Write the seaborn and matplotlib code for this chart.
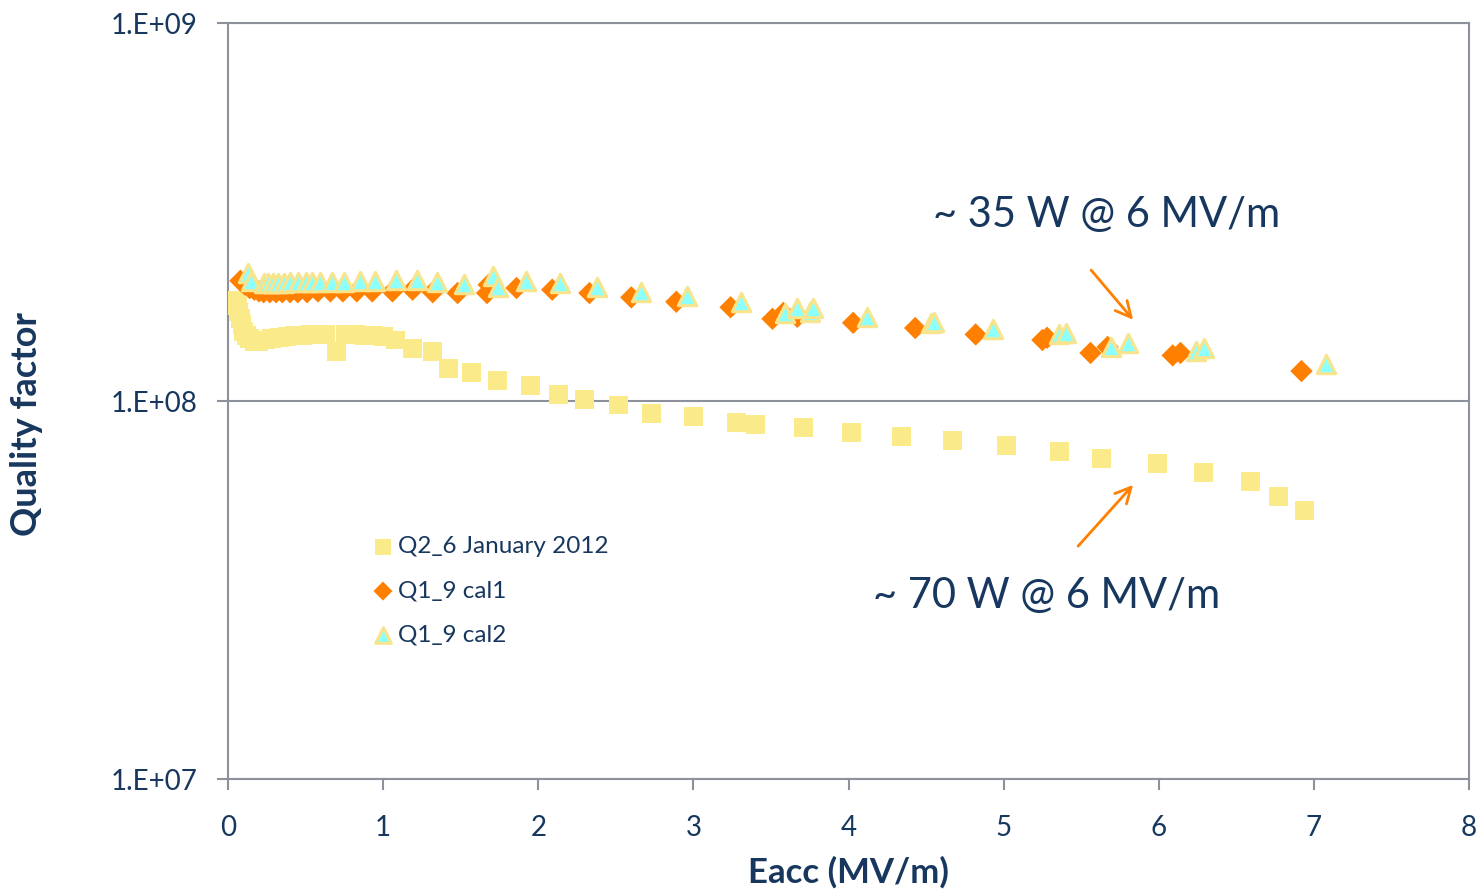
import numpy as np
import pandas as pd
import matplotlib
matplotlib.use("Agg")
import matplotlib.pyplot as plt
import seaborn as sns
from matplotlib.ticker import FixedLocator, FuncFormatter, NullLocator

# ---------------- data ----------------
series_labels = ["Q2_6 January 2012", "Q1_9 cal1", "Q1_9 cal2"]

q2_x = [0.05, 0.06, 0.07, 0.08, 0.09, 0.10, 0.12, 0.14, 0.17, 0.20,
        0.24, 0.28, 0.33, 0.38, 0.43, 0.48, 0.53, 0.58, 0.63, 0.70,
        0.76, 0.82, 0.88, 0.94, 1.00, 1.08, 1.19, 1.32, 1.42, 1.57,
        1.74, 1.95, 2.13, 2.30, 2.52, 2.73, 3.00, 3.28, 3.40, 3.71,
        4.02, 4.34, 4.67, 5.02, 5.36, 5.63, 5.99, 6.29, 6.59, 6.77, 6.94]
q2_q = [1.85e8, 1.79e8, 1.72e8, 1.65e8, 1.59e8, 1.53e8, 1.49e8, 1.46e8, 1.44e8, 1.44e8,
        1.45e8, 1.46e8, 1.47e8, 1.48e8, 1.49e8, 1.49e8, 1.50e8, 1.50e8, 1.50e8, 1.35e8,
        1.50e8, 1.50e8, 1.49e8, 1.49e8, 1.48e8, 1.45e8, 1.38e8, 1.35e8, 1.22e8, 1.19e8,
        1.13e8, 1.10e8, 1.04e8, 1.01e8, 9.76e7, 9.29e7, 9.12e7, 8.77e7, 8.67e7, 8.51e7,
        8.26e7, 8.07e7, 7.87e7, 7.64e7, 7.37e7, 7.05e7, 6.84e7, 6.48e7, 6.13e7, 5.60e7, 5.14e7]

cal1_x = [0.08, 0.11, 0.14, 0.17, 0.20, 0.23, 0.27, 0.31, 0.35, 0.40,
          0.45, 0.51, 0.58, 0.66, 0.74, 0.83, 0.93, 1.06, 1.19, 1.32,
          1.48, 1.67, 1.68, 1.86, 2.09, 2.33, 2.60, 2.89, 3.24, 3.51,
          3.58, 3.67, 4.03, 4.43, 4.82, 5.25, 5.28, 5.56, 5.67, 6.09,
          6.14, 6.92]
cal1_q = [2.08e8, 2.03e8, 1.99e8, 1.97e8, 1.95e8, 1.94e8, 1.94e8, 1.94e8, 1.94e8, 1.94e8,
          1.94e8, 1.94e8, 1.95e8, 1.95e8, 1.95e8, 1.95e8, 1.95e8, 1.95e8, 1.97e8, 1.94e8,
          1.93e8, 1.93e8, 2.03e8, 1.99e8, 1.97e8, 1.93e8, 1.88e8, 1.83e8, 1.77e8, 1.65e8,
          1.71e8, 1.67e8, 1.61e8, 1.56e8, 1.50e8, 1.45e8, 1.47e8, 1.34e8, 1.39e8, 1.32e8,
          1.34e8, 1.20e8]

cal2_x = [0.13, 0.15, 0.23, 0.26, 0.29, 0.32, 0.36, 0.40, 0.45, 0.50,
          0.54, 0.59, 0.67, 0.75, 0.85, 0.95, 1.08, 1.22, 1.35, 1.52,
          1.71, 1.74, 1.92, 2.14, 2.38, 2.66, 2.96, 3.31, 3.59, 3.67,
          3.75, 3.77, 4.12, 4.53, 4.55, 4.93, 5.36, 5.40, 5.69, 5.80,
          6.24, 6.29, 7.08]
cal2_q = [2.18e8, 2.08e8, 2.05e8, 2.05e8, 2.05e8, 2.05e8, 2.05e8, 2.07e8, 2.07e8, 2.07e8,
          2.07e8, 2.07e8, 2.07e8, 2.07e8, 2.08e8, 2.08e8, 2.09e8, 2.09e8, 2.07e8, 2.04e8,
          2.14e8, 2.00e8, 2.08e8, 2.05e8, 2.00e8, 1.94e8, 1.90e8, 1.83e8, 1.71e8, 1.76e8,
          1.72e8, 1.76e8, 1.67e8, 1.61e8, 1.62e8, 1.55e8, 1.50e8, 1.51e8, 1.39e8, 1.42e8,
          1.36e8, 1.38e8, 1.25e8]

x_ticks = [0, 1, 2, 3, 4, 5, 6, 7, 8]
y_ticks = [1e7, 1e8, 1e9]
x_label = "Eacc (MV/m)"
y_label = "Quality factor"
annot_texts = ["~ 35 W @ 6 MV/m", "~ 70 W @ 6 MV/m"]
annot_text_pos = [(4.545, 3.10e8), (4.16, 3.05e7)]
annot_arrow_from = [(5.564, 2.22e8), (5.48, 4.13e7)]
annot_arrow_to = [(5.835, 1.64e8), (5.835, 6.0e7)]

# ---------------- style ----------------
sns.set_style("white")
plt.rcParams['font.family'] = ['Lato', 'DejaVu Sans']
TEXT = "#17375E"
GRID = "#8C919B"

fig = plt.figure(figsize=(14.8, 8.92), dpi=100)
ax = fig.add_axes([228 / 1480, 1 - 779 / 892, 1241 / 1480, 756 / 892])

df_q2 = pd.DataFrame({"Eacc": q2_x, "Q": q2_q})
df_c1 = pd.DataFrame({"Eacc": cal1_x, "Q": cal1_q})
df_c2 = pd.DataFrame({"Eacc": cal2_x, "Q": cal2_q})

sns.scatterplot(data=df_q2, x="Eacc", y="Q", ax=ax, marker="s", s=185,
                color="#FAEA8A", edgecolor="none", linewidth=0,
                label=series_labels[0], zorder=3)
sns.scatterplot(data=df_c1, x="Eacc", y="Q", ax=ax, marker="D", s=130,
                color="#FF8000", edgecolor="none", linewidth=0,
                label=series_labels[1], zorder=4)
sns.scatterplot(data=df_c2, x="Eacc", y="Q", ax=ax, marker="^", s=175,
                color="#8CFFFF", edgecolor="#F7E48C", linewidth=2.2,
                label=series_labels[2], zorder=5)

ax.set_yscale("log")
ax.set_xlim(0, 8)
ax.set_ylim(1e7, 1e9)
ax.xaxis.set_major_locator(FixedLocator(x_ticks))
ax.yaxis.set_major_locator(FixedLocator(y_ticks))
ax.yaxis.set_minor_locator(NullLocator())
ax.yaxis.set_major_formatter(FuncFormatter(lambda v, p: "1.E+%02d" % int(round(np.log10(v)))))
ax.xaxis.set_major_formatter(FuncFormatter(lambda v, p: "%d" % int(round(v))))

ax.grid(axis="y", which="major", color=GRID, linewidth=1.5, zorder=0)
ax.grid(axis="x", visible=False)
for side in ["left", "right", "top", "bottom"]:
    ax.spines[side].set_visible(True)
    ax.spines[side].set_color(GRID)
    ax.spines[side].set_linewidth(1.5)

ax.tick_params(axis="both", which="major", direction="out", length=8, width=1.5,
               color=GRID, labelcolor=TEXT, labelsize=20)
ax.tick_params(axis="y", pad=14, left=True)
ax.tick_params(axis="x", pad=18, bottom=True)

ax.set_xlabel("")
ax.set_ylabel("")
fig.text(848 / 1480, 1 - 872 / 892, x_label, ha="center", va="center",
         fontsize=25, fontweight="bold", color=TEXT)
fig.text(27 / 1480, 1 - 424 / 892, y_label, ha="center", va="center",
         rotation=90, fontsize=26, fontweight="bold", color=TEXT)

leg = ax.legend(loc="upper left", bbox_to_anchor=(0.118, 0.321), frameon=False,
                fontsize=17.5, handlelength=0.7, handletextpad=0.25,
                labelspacing=0.95, borderpad=0, borderaxespad=0, markerscale=0.85)
for t in leg.get_texts():
    t.set_color(TEXT)

for txt, tpos, a0, a1 in zip(annot_texts, annot_text_pos, annot_arrow_from, annot_arrow_to):
    ax.text(tpos[0], tpos[1], txt, ha="left", va="center", fontsize=30, color=TEXT)
    ax.annotate("", xy=a1, xytext=a0,
                arrowprops=dict(arrowstyle="->", color="#FF7F00", lw=2,
                                mutation_scale=28, shrinkA=0, shrinkB=0))

fig.savefig("out.png", dpi=100)
